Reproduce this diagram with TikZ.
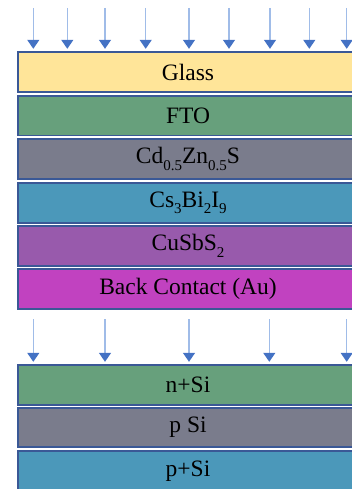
\documentclass[tikz,border=0pt]{standalone}
\usepackage{fontspec}
\setmainfont{Liberation Serif}
\usetikzlibrary{arrows.meta}
\definecolor{edgeblue}{RGB}{58,88,150}
\definecolor{shaftblue}{RGB}{160,188,232}
\definecolor{headblue}{RGB}{68,114,196}
\definecolor{glassc}{RGB}{255,229,153}
\definecolor{greenc}{RGB}{103,160,124}
\definecolor{grayc}{RGB}{122,124,140}
\definecolor{bluec}{RGB}{75,152,186}
\definecolor{purplec}{RGB}{152,90,172}
\definecolor{magentac}{RGB}{193,66,192}
\newcommand{\sbs}[1]{\raisebox{-6.5pt}{\fontsize{15}{15}\selectfont #1}}
\tikzset{
  layer/.style={draw=edgeblue, line width=1.4pt, minimum width=340pt, inner sep=0pt,
    font=\fontsize{23.5}{28}\selectfont, text=black},
  arr/.style={draw=shaftblue, line width=1.3pt, shorten >=2.5pt,
    -{Triangle[width=12pt,length=9pt,color=headblue,fill=headblue]}}
}
\begin{document}
\begin{tikzpicture}[x=1pt,y=-1pt]
\useasboundingbox (0,0) rectangle (351,489);
% layers of the top cell
\node[layer, fill=glassc,   minimum height=40pt]   (glass) at (188,72)    {Glass};
\node[layer, fill=greenc,   minimum height=39.5pt] (fto)   at (188,115.7) {FTO};
\node[layer, fill=grayc,    minimum height=40pt]   (czs)   at (188,159)   {Cd\sbs{0.5}Zn\sbs{0.5}S};
\node[layer, fill=bluec,    minimum height=40pt]   (cbi)   at (188,203)   {Cs\sbs{3}Bi\sbs{2}I\sbs{9}};
\node[layer, fill=purplec,  minimum height=40pt]   (css)   at (188,246)   {CuSbS\sbs{2}};
\node[layer, fill=magentac, minimum height=40pt]   (back)  at (188,289)   {Back Contact (Au)};
% layers of the bottom cell
\node[layer, fill=greenc,   minimum height=40pt]   (nsi)   at (188,385)   {n+Si};
\node[layer, fill=grayc,    minimum height=39pt]   (psi)   at (188,427.5) {p Si};
\node[layer, fill=bluec,    minimum height=40pt]   (ppsi)  at (188,471)   {p+Si};
% incoming light, top
\foreach \i/\x in {1/33.3,2/67.3,3/105,4/145.7,5/189,6/229,7/270,8/309.3,9/346.7}{
  \coordinate (t\i) at (\x,8);
  \draw[arr] (t\i) -- (t\i |- glass.north);
}
% transmitted light, bottom
\foreach \i/\x in {1/33.3,2/105,3/189,4/269.3,5/346.7}{
  \coordinate (b\i) at (\x,319);
  \draw[arr] (b\i) -- (b\i |- nsi.north);
}
\end{tikzpicture}
\end{document}
